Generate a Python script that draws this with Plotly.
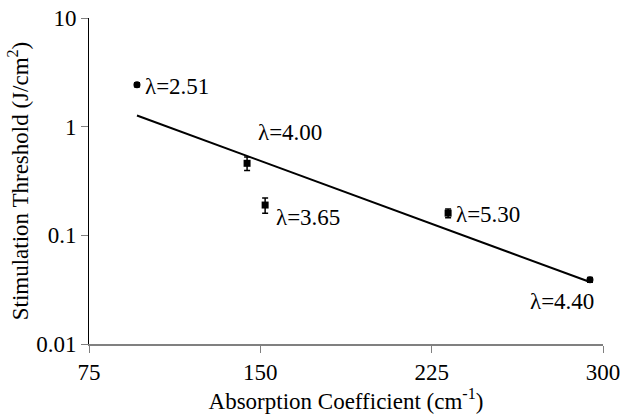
import numpy as np
import plotly.graph_objects as go

# Data
absorption = [96.0, 144.2, 152.1, 232.2, 294.3]
threshold = [2.43, 0.46, 0.19, 0.160, 0.039]
err = [0.10, 0.065, 0.03, 0.015, 0.002]
labels = ["λ=2.51", "λ=4.00", "λ=3.65", "λ=5.30", "λ=4.40"]
symbols = ["circle", "square", "square", "square", "circle"]

x_ticks = [75, 150, 225, 300]
y_ticks = [0.01, 0.1, 1, 10]
y_ticklabels = ["0.01", "0.1", "1", "10"]

# Exponential trendline fit (as in spreadsheet)
xa = np.array(absorption)
slope, intercept = np.polyfit(xa, np.log10(threshold), 1)
xfit = np.array([xa.min(), xa.max()])
yfit = 10 ** (intercept + slope * xfit)

FONT = "Liberation Serif"
FS = 23

fig = go.Figure()
fig.add_trace(go.Scatter(
    x=xfit, y=yfit, mode="lines",
    line=dict(color="black", width=2),
    cliponaxis=False, showlegend=False, hoverinfo="skip"))
fig.add_trace(go.Scatter(
    x=absorption, y=threshold, mode="markers",
    marker=dict(symbol=symbols, size=7, color="black"),
    error_y=dict(type="data", array=err, color="black", thickness=1.5, width=3),
    cliponaxis=False, showlegend=False))

# label offsets (pixels)
offsets = [(6, -2, "left"), (9, 31, "left"), (9, -12, "left"), (6, -1, "left"), (6, -22, "right")]
for xv, yv, lab, (dx, dy, anc) in zip(absorption, threshold, labels, offsets):
    fig.add_annotation(x=xv, y=np.log10(yv), text=lab, showarrow=False,
                       xanchor=anc, yanchor="middle", xshift=dx, yshift=dy,
                       font=dict(family=FONT, size=FS, color="black"))

fig.update_layout(
    width=622, height=416,
    margin=dict(l=89, r=19, t=18, b=72),
    paper_bgcolor="white", plot_bgcolor="white",
    font=dict(family=FONT, size=FS, color="black"),
    xaxis=dict(range=[75, 300], tickvals=x_ticks, ticks="outside", ticklen=7,
               tickcolor="#808080", showline=True, linecolor="#808080", linewidth=1.5,
               showgrid=False, zeroline=False, automargin=False,
               tickfont=dict(family=FONT, size=FS),
               title=dict(text="Absorption Coefficient (cm<sup>-1</sup>)", standoff=4,
                          font=dict(family=FONT, size=FS))),
    yaxis=dict(type="log", range=[-2, 1], tickvals=y_ticks, ticktext=y_ticklabels,
               ticks="outside", ticklen=7, tickcolor="#808080",
               showline=True, linecolor="black", linewidth=1,
               showgrid=False, zeroline=False, automargin=False,
               tickfont=dict(family=FONT, size=FS),
               title=dict(text="Stimulation Threshold (J/cm<sup>2</sup>)", standoff=1,
                          font=dict(family=FONT, size=FS))),
)

fig.write_html("out.html")
